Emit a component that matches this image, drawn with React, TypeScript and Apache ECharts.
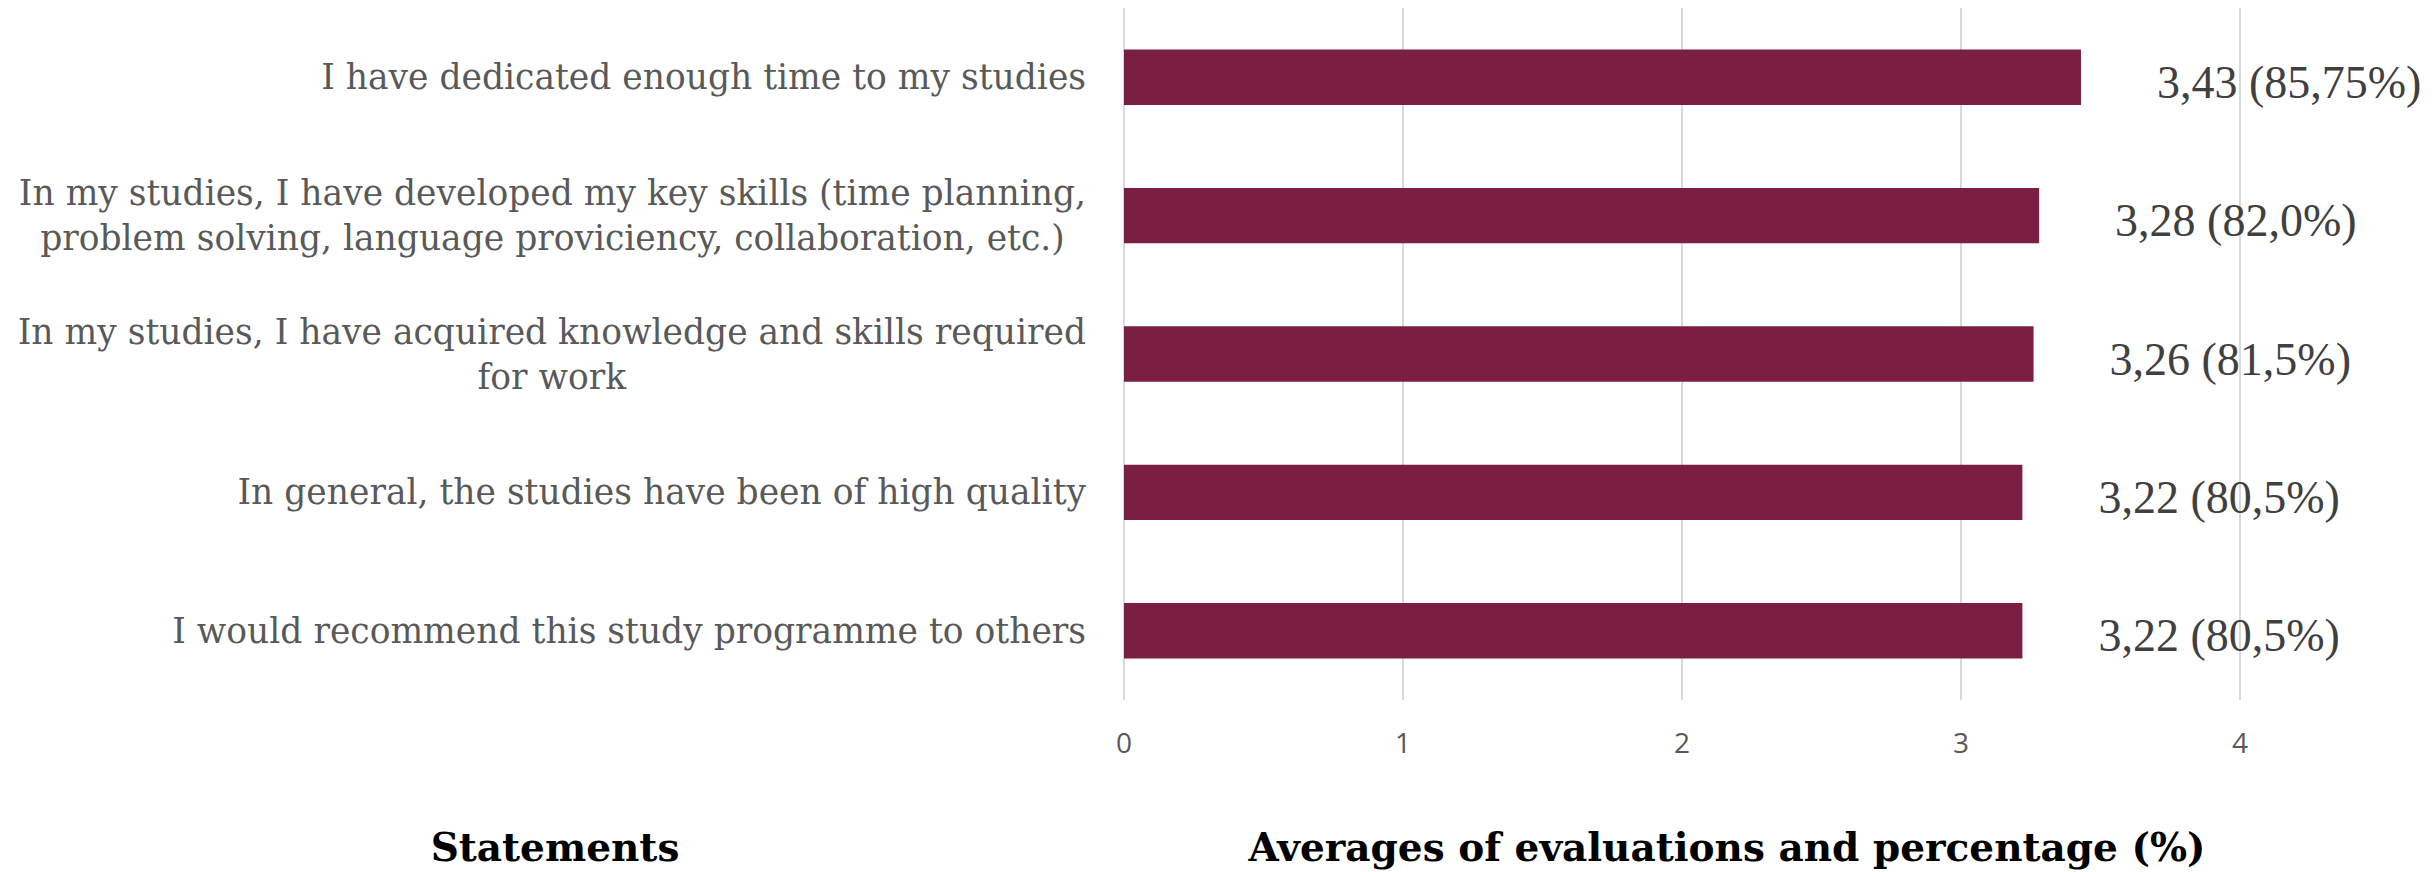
import React, { useEffect, useRef } from "react";
import * as echarts from "echarts";

const categories = [
  "I have dedicated enough time to my studies",
  "In my studies, I have developed my key skills (time planning,\nproblem solving, language proviciency, collaboration, etc.)",
  "In my studies, I have acquired knowledge and skills required\nfor work",
  "In general, the studies have been of high quality",
  "I would recommend this study programme to others",
];
const averages = [3.43, 3.28, 3.26, 3.22, 3.22];
const percentages = ["85,75", "82,0", "81,5", "80,5", "80,5"];
const xMin = 0;
const xMax = 4;
const xStep = 1;
const yAxisTitle = "Statements";
const xAxisTitle = "Averages of evaluations and percentage (%)";

const BAR_COLOR = "#7A1F42";
const CAT_FONT = "'DejaVu Serif', serif";
const VAL_FONT = "'Liberation Serif', serif";
const CAT_SIZE = 34.5;

export default function App() {
  const ref = useRef<HTMLDivElement>(null);
  useEffect(() => {
    if (!ref.current) return;
    const chart = echarts.init(ref.current, undefined, { renderer: "svg" });
    chart.setOption({
      animation: false,
      backgroundColor: "#ffffff",
      grid: { left: 1124, right: 192, top: 8, bottom: 172, containLabel: false },
      xAxis: {
        type: "value",
        min: xMin,
        max: xMax,
        interval: xStep,
        axisLine: { show: false },
        axisTick: { show: false },
        splitLine: { show: true, lineStyle: { color: "#d9d9d9", width: 2 } },
        axisLabel: {
          margin: 28,
          fontFamily: "'Open Sans', sans-serif",
          fontSize: 28,
          color: "#595959",
        },
      },
      yAxis: {
        type: "category",
        data: categories,
        inverse: true,
        axisLine: { show: false },
        axisTick: { show: false },
        axisLabel: {
          margin: 38,
          align: "right",
          fontFamily: CAT_FONT,
          fontSize: CAT_SIZE,
          color: "#595959",
          lineHeight: 45,
          formatter: (v: string) =>
            v
              .split("\n")
              .map((l) => `{c|${l}}`)
              .join("\n"),
          rich: {
            c: {
              align: "center",
              fontFamily: CAT_FONT,
              fontSize: CAT_SIZE,
              color: "#595959",
              lineHeight: 45,
            },
          },
        },
      },
      series: [
        {
          type: "bar",
          data: averages,
          barCategoryGap: "60%",
          itemStyle: { color: BAR_COLOR },
          label: {
            show: true,
            position: "right",
            distance: 76,
            offset: [0, 5],
            fontFamily: VAL_FONT,
            fontSize: 46,
            color: "#404040",
            formatter: (p: any) =>
              `${averages[p.dataIndex].toFixed(2).replace(".", ",")} (${percentages[p.dataIndex]}%)`,
          },
        },
      ],
      graphic: [
        {
          type: "text",
          x: 555,
          y: 847,
          style: {
            text: yAxisTitle,
            fontFamily: CAT_FONT,
            fontWeight: "bold",
            fontSize: 39,
            fill: "#000000",
            textAlign: "center",
            textVerticalAlign: "middle",
          },
        },
        {
          type: "text",
          x: 1727,
          y: 847,
          style: {
            text: xAxisTitle,
            fontFamily: CAT_FONT,
            fontWeight: "bold",
            fontSize: 39,
            fill: "#000000",
            textAlign: "center",
            textVerticalAlign: "middle",
          },
        },
      ],
    });
    return () => chart.dispose();
  }, []);
  return (
    <div
      ref={ref}
      style={{ position: "absolute", left: 0, top: 0, width: 2432, height: 872 }}
    />
  );
}
